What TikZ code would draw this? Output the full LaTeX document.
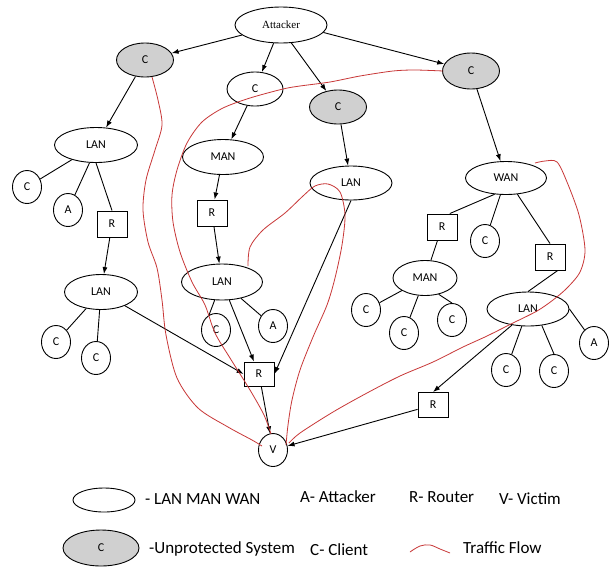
\documentclass[tikz,border=0pt]{standalone}
\usepackage{fontspec}
\setmainfont{Carlito}
\newfontfamily\attfont{Liberation Serif}
\usetikzlibrary{shapes.geometric,arrows.meta}
\definecolor{flowred}{RGB}{200,55,55}
\definecolor{nodegray}{RGB}{208,208,208}
\begin{document}
\begin{tikzpicture}[x=1pt,y=-1pt]
\tikzset{
  base/.style={draw, line width=0.9pt, inner sep=0pt, font=\fontsize{12}{12}\selectfont},
  oval/.style={base, ellipse, fill=white},
  unprot/.style={base, ellipse, fill=nodegray},
  host/.style={base, ellipse, fill=white, minimum width=29pt, minimum height=33pt},
  router/.style={base, rectangle, fill=white, minimum width=30pt, minimum height=26pt},
  link/.style={line width=0.9pt},
  arr/.style={link, -{Latex[length=7pt,width=5pt]}},
  flow/.style={flowred, line width=0.8pt},
  legtext/.style={anchor=base west, inner sep=0pt, font=\fontsize{17}{17}\selectfont},
}
\useasboundingbox[fill=white] (0,0) rectangle (609,568);

% nodes
\node[oval, minimum width=92pt, minimum height=36pt, font=\attfont\fontsize{11}{11}\selectfont] (att) at (281,25) {Attacker};
\node[unprot, minimum width=57pt, minimum height=34pt] (g1) at (145,60) {C};
\node[oval, minimum width=56pt, minimum height=34pt] (c1) at (255,89) {C};
\node[unprot, minimum width=57pt, minimum height=34pt] (g2) at (338,107) {C};
\node[unprot, minimum width=57pt, minimum height=36pt] (g3) at (471,71) {C};
\node[oval, minimum width=83pt, minimum height=35pt] (lan1) at (96,145) {LAN};
\node[oval, minimum width=81pt, minimum height=35pt] (man1) at (223,157) {MAN};
\node[oval, minimum width=82pt, minimum height=34pt] (lan2) at (351,183) {LAN};
\node[oval, minimum width=81pt, minimum height=33pt] (wan) at (506,178) {WAN};
\node[host] (c2) at (27,187) {C};
\node[host] (a1) at (68,210) {A};
\node[router] (r1) at (112,224) {R};
\node[router] (r2) at (212,213) {R};
\node[router] (r3) at (442,227) {R};
\node[host] (c3) at (485,241) {C};
\node[router] (r4) at (550,257) {R};
\node[oval, minimum width=64pt, minimum height=35pt] (man2) at (425,278) {MAN};
\node[oval, minimum width=73pt, minimum height=35pt] (lan3) at (101,292) {LAN};
\node[oval, minimum width=81pt, minimum height=36pt] (lan4) at (222,282) {LAN};
\node[oval, minimum width=82pt, minimum height=34pt] (lan5) at (528,309) {LAN};
\node[host] (c4) at (56,342) {C};
\node[host] (c5) at (96,358) {C};
\node[host] (c6) at (216,330) {C};
\node[host] (a2) at (273,326) {A};
\node[host] (c7) at (366,310) {C};
\node[host] (c8) at (404,333) {C};
\node[host] (c9) at (452,320) {C};
\node[host] (c10) at (506,370) {C};
\node[host] (c11) at (554,371) {C};
\node[host] (a3) at (594,343) {A};
\node[router, minimum height=24pt] (rc) at (259,374) {R};
\node[router, minimum height=25pt] (r5) at (433,405) {R};
\node[host] (v) at (273,450) {V};

% connectors
\draw[arr] (att) -- (g1);
\draw[arr] (att) -- (c1);
\draw[arr] (att.-60) -- (g2);
\draw[arr] (att.-10) -- (g3);
\draw[arr] (g1) -- (lan1);
\draw[arr] (c1) -- (man1);
\draw[arr] (man1) -- (r2);
\draw[arr] (r2) -- (lan4);
\draw[arr] (g2) -- (lan2);
\draw[arr] (g3) -- (wan);
\draw[link] (lan1) -- (c2);
\draw[link] (lan1.250) -- (a1);
\draw[link] (lan1.south) -- (r1.north);
\draw[arr] (r1) -- (lan3);
\draw[link] (lan3) -- (c4);
\draw[link] (lan3) -- (c5);
\draw[arr] (lan3) -- (rc.west);
\draw[link] (lan4.248) -- (c6.115);
\draw[link] (lan4) -- (a2);
\draw[arr] (lan4) -- (rc);
\draw[arr] (lan2.south) -- (rc.east);
\draw[arr] (rc) -- (v);
\draw[link] (wan.235) -- (r3.60);
\draw[link] (wan) -- (c3);
\draw[link] (wan.-55) -- (r4.north);
\draw[link] (r3) -- (man2);
\draw[link] (man2) -- (c7);
\draw[link] (man2) -- (c8);
\draw[link] (man2.-50) -- (c9.north);
\draw[link] (r4.-60) -- (lan5.north);
\draw[link] (lan5) -- (c10);
\draw[link] (lan5.-50) -- (c11.north);
\draw[link] (lan5.east) -- (a3);
\draw[arr] (lan5.225) -- (r5.north);
\draw[arr] (r5) -- (v);

% traffic flows
\draw[flow] plot[smooth, tension=0.5] coordinates {(152,77) (158,100) (162,125) (155,150) (146,180) (143,210) (148,242) (157,268) (162,300) (166,335) (177,378) (198,408) (228,427) (252,440) (262,446)};
\draw[flow] plot[smooth, tension=0.5] coordinates {(443,71) (415,70) (393,71) (360,76) (330,82) (300,86) (283,89) (250,98) (223,108) (202,122) (187,143) (177,170) (172,195) (173,222) (180,252) (192,282) (205,305) (215,333) (230,358) (250,390) (264,415) (271,434)};
\draw[flow] plot[smooth, tension=0.5] coordinates {(248,266) (250,247) (263,230) (285,213) (303,196) (315,186) (328,184) (340,192) (345,215) (342,245) (335,278) (327,305) (313,337) (300,370) (292,400) (288,425) (286,445)};
\draw[flow] plot[smooth, tension=0.5] coordinates {(289,443) (300,433) (333,412) (367,393) (400,376) (433,362) (463,347) (487,336) (513,323) (537,311) (553,300) (567,288) (580,272) (585,250) (579,215) (567,182) (557,162) (545,161) (535,163)};

% legend
\node[oval, minimum width=62pt, minimum height=24pt] (legoval) at (104,500) {};
\node[unprot, minimum width=76pt, minimum height=36pt] (leggray) at (101,548) {C};
\node[legtext] (t1) at (145,504) {- LAN MAN WAN};
\node[legtext] (t2) at (300,502) {A- Attacker};
\node[legtext] (t3) at (409,502) {R- Router};
\node[legtext] (t4) at (499,504) {V- Victim};
\node[legtext] (t5) at (149,553) {-Unprotected System};
\node[legtext] (t6) at (310,555) {C- Client};
\node[legtext] (t7) at (463,553) {Traffic Flow};
\draw[flow] plot[smooth, tension=0.6] coordinates {(410,552) (420,546) (430,545) (440,549) (450,553)};
\end{tikzpicture}
\end{document}
